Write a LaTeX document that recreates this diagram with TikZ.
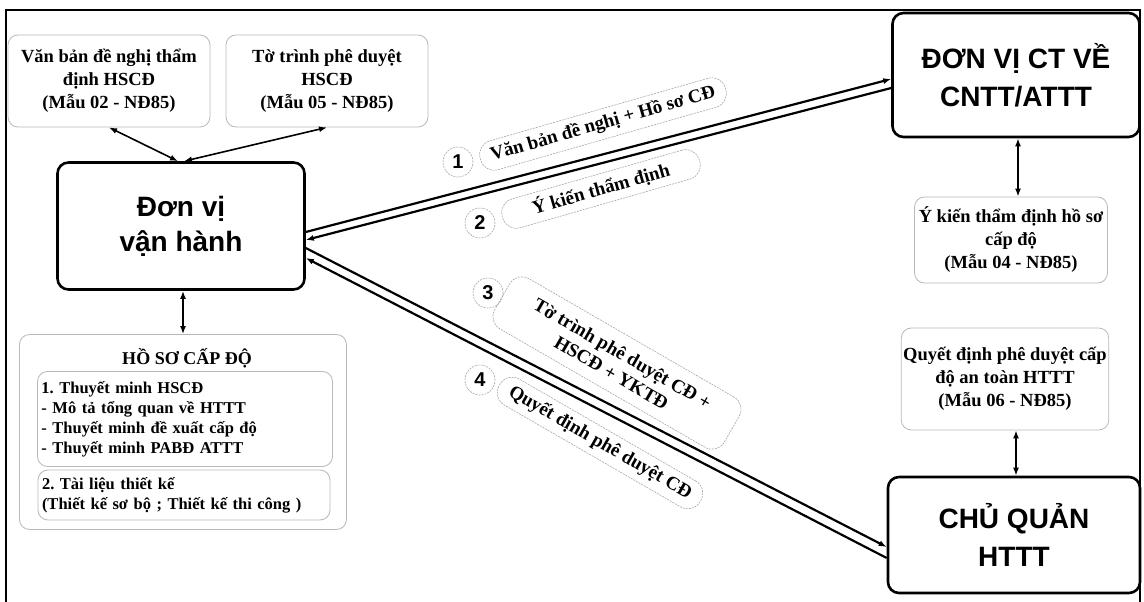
\documentclass[tikz,border=0pt]{standalone}
\usepackage{fontspec}
\setmainfont{Liberation Serif}
\setsansfont{Liberation Sans}
\usetikzlibrary{arrows.meta}
\frenchspacing

\tikzset{
  mauvb/.style={draw=gray!55, line width=.8pt, rounded corners=10pt, fill=white,
    align=center, inner sep=2pt, font=\bfseries\fontsize{18.5}{23}\selectfont},
  donvi/.style={draw, line width=2.6pt, rounded corners=11pt, fill=white,
    align=center, font=\sffamily\bfseries\fontsize{28}{38}\selectfont},
  nhan/.style={draw=gray!70, line width=.6pt, dash pattern=on 2pt off 1pt,
    rounded corners=14pt, align=center, inner sep=3pt,
    font=\bfseries\fontsize{19}{22}\selectfont},
  so/.style={circle, draw=gray!70, line width=.6pt, dash pattern=on 2pt off 1pt,
    minimum size=30pt, inner sep=0pt, font=\sffamily\bfseries\fontsize{20}{20}\selectfont},
  muc/.style={draw=gray!55, line width=.8pt, rounded corners=10pt, align=left,
    inner sep=4pt, font=\bfseries\fontsize{16.5}{20}\selectfont},
}

\begin{document}
\begin{tikzpicture}[x=1pt, y=-1pt, >={Latex[length=8pt,width=6pt]}]

    \useasboundingbox (0,0) rectangle (1144,602);

    % Khung ngoài (không có cạnh dưới)
    \draw[line width=2pt] (6,602) -- (6,10) -- (1140,10) -- (1140,602);

    % --- Các đơn vị chính ---
    \node[donvi, minimum width=247pt, minimum height=127pt, font=\sffamily\bfseries\fontsize{28}{35}\selectfont] (dvvh) at (181,226) {Đơn vị\\vận hành};
    \node[donvi, minimum width=247pt, minimum height=124pt] (ct) at (1016,75) {ĐƠN VỊ CT VỀ\\CNTT/ATTT};
    \node[donvi, minimum width=252pt, minimum height=116pt] (cq) at (1014,535) {CHỦ QUẢN\\HTTT};

    % --- Các mẫu văn bản ---
    \node[mauvb, minimum width=202pt, minimum height=92pt] (vb) at (109,81) {Văn bản đề nghị thẩm\\định HSCĐ\\(Mẫu 02 - NĐ85)};
    \node[mauvb, minimum width=202pt, minimum height=92pt] (tt) at (327,81) {Tờ trình phê duyệt\\HSCĐ\\(Mẫu 05 - NĐ85)};
    \node[mauvb, minimum width=193pt, minimum height=86pt] (ykien) at (1011,240) {Ý kiến thẩm định hồ sơ\\cấp độ\\(Mẫu 04 - NĐ85)};
    \node[mauvb, minimum width=204pt, minimum height=102pt] (qd) at (1005,379) {Quyết định phê duyệt cấp\\độ an toàn HTTT\\(Mẫu 06 - NĐ85)};

    % --- Hồ sơ cấp độ ---
    \node[mauvb, minimum width=327pt, minimum height=195pt] (hoso) at (183,432) {};
    \node[font=\bfseries\fontsize{18}{20}\selectfont] (hosott) at (187,358) {HỒ SƠ CẤP ĐỘ};
    \node[muc, text width=287pt, minimum height=95pt] (tm) at (185,419)
      {1. Thuyết minh HSCĐ\\- Mô tả tổng quan về HTTT\\- Thuyết minh đề xuất cấp độ\\- Thuyết minh PABĐ ATTT};
    \node[muc, text width=284pt, minimum height=50pt] (tl) at (184,495)
      {2. Tài liệu thiết kế\\(Thiết kế sơ bộ ; Thiết kế thi công )};

    % --- Liên kết hai chiều ---
    \draw[<->, line width=1.6pt] (vb.south) -- ([xshift=-3pt]dvvh.north);
    \draw[<->, line width=1.6pt] (tt.south) -- ([xshift=3pt]dvvh.north);
    \draw[<->, line width=1.6pt] ([xshift=2pt]dvvh.south) -- ([xshift=2pt]dvvh.south |- hoso.north);
    \draw[<->, line width=1.6pt] ([xshift=2pt]ct.south) -- ([xshift=2pt]ct.south |- ykien.north);
    \draw[<->, line width=1.6pt] ([xshift=2pt]cq.north |- qd.south) -- ([xshift=2pt]cq.north);

    % --- Luồng xử lý hồ sơ ---
    \draw[->, line width=2.2pt] ([yshift=-6pt]dvvh.east) -- ([yshift=-4pt]ct.west);    % bước 1
    \draw[->, line width=2.2pt] ([yshift=-13pt]ct.west) -- ([yshift=-14pt]dvvh.east);  % bước 2
    \draw[->, line width=2.2pt] ([yshift=-22pt]dvvh.east) -- ([yshift=-12pt]cq.west);  % bước 3
    \draw[->, line width=2.2pt] ([yshift=-23pt]cq.west) -- ([yshift=-32pt]dvvh.east);  % bước 4

    % Nhãn các bước
    \node[so] (s1) at (458,162) {1};
    \node[so] (s2) at (480,223) {2};
    \node[so] (s3) at (488,293) {3};
    \node[so] (s4) at (480,380) {4};
    \node[nhan, rotate=16, minimum width=255pt, minimum height=30pt] (n1) at (603,124) {Văn bản đề nghị + Hồ sơ CĐ};
    \node[nhan, rotate=16, minimum width=205pt, minimum height=30pt] (n2) at (601,189) {Ý kiến thẩm định};
    \node[nhan, rotate=-30, minimum width=265pt, minimum height=58pt] (n3) at (617,363) {Tờ trình phê duyệt CĐ +\\HSCĐ + YKTĐ};
    \node[nhan, rotate=-30, minimum width=232pt, minimum height=30pt] (n4) at (600,443) {Quyết định phê duyệt CĐ};

\end{tikzpicture}
\end{document}
